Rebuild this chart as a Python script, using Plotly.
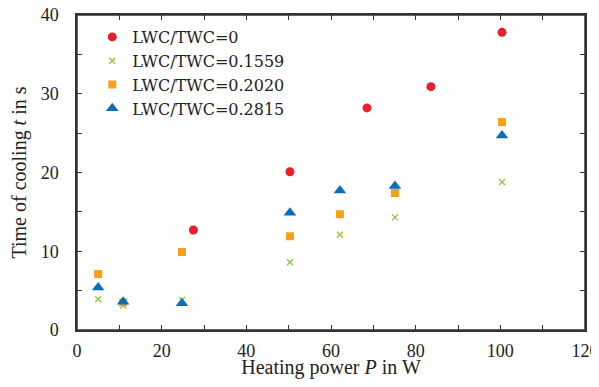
import plotly.graph_objects as go

# Data
names = ["LWC/TWC=0", "LWC/TWC=0.1559", "LWC/TWC=0.2020", "LWC/TWC=0.2815"]

p_lwc0 = [27.5, 50.3, 68.5, 83.6, 100.4]
t_lwc0 = [12.7, 20.1, 28.2, 30.9, 37.8]

p_lwc1559 = [5.0, 10.9, 24.8, 50.3, 62.1, 75.1, 100.4]
t_lwc1559 = [3.9, 3.1, 3.8, 8.6, 12.1, 14.3, 18.8]

p_lwc2020 = [5.0, 10.9, 24.8, 50.3, 62.1, 75.1, 100.4]
t_lwc2020 = [7.1, 3.5, 9.9, 11.9, 14.7, 17.4, 26.4]

p_lwc2815 = [5.0, 10.9, 24.8, 50.3, 62.1, 75.1, 100.4]
t_lwc2815 = [5.4, 3.6, 3.4, 14.9, 17.7, 18.3, 24.7]

x_ticks = [0, 20, 40, 60, 80, 100, 120]
y_ticks = [0, 10, 20, 30, 40]

colors = ["#e8202a", "#8cc63f", "#f7a11a", "#0a6ebd"]
symbols = ["circle", "x-thin", "square", "triangle-up"]
sizes = [9, 6, 8, 11]

series = [(p_lwc0, t_lwc0), (p_lwc1559, t_lwc1559), (p_lwc2020, t_lwc2020), (p_lwc2815, t_lwc2815)]

fig = go.Figure()
for (px, ty), nm, c, s, sz in zip(series, names, colors, symbols, sizes):
    marker = dict(color=c, symbol=s, size=sz)
    if s == "x-thin":
        marker["line"] = dict(color=c, width=1.3)
    fig.add_trace(go.Scatter(x=px, y=ty, mode="markers", name=nm, marker=marker))

font_family = "Liberation Serif"
axis_common = dict(
    showline=True, linecolor="#333333", linewidth=1.5, mirror="allticks",
    ticks="inside", ticklen=5, tickcolor="#333333", tickwidth=1.3,
    showgrid=False, zeroline=False, automargin=False,
    ticklabeloverflow="allow",
    tickfont=dict(family=font_family, size=18, color="#222222"),
)

# page body has an 8px default margin, so the figure is sized to fit the window
fig.update_layout(
    width=589, height=371,
    margin=dict(l=69, r=12, t=7, b=49),
    paper_bgcolor="white", plot_bgcolor="white",
    font=dict(family=font_family, size=18, color="#222222"),
    showlegend=True,
    legend=dict(x=0.03, y=0.984, xanchor="left", yanchor="top",
                bgcolor="rgba(0,0,0,0)",
                font=dict(family="DejaVu Serif", size=16, color="#222222"),
                itemsizing="trace", tracegroupgap=0),
    xaxis=dict(range=[0, 120], tickvals=x_ticks, ticklabelstandoff=4,
               minor=dict(ticks="inside", ticklen=5, tickcolor="#333333", dtick=10, tickwidth=1.3),
               title=dict(text="Heating power <i>P</i> in W", standoff=13,
                          font=dict(family=font_family, size=20)),
               **axis_common),
    yaxis=dict(range=[0, 40], tickvals=y_ticks, ticklabelstandoff=13,
               minor=dict(ticks="inside", ticklen=5, tickcolor="#333333", dtick=5, tickwidth=1.3),
               title=dict(text="Time of cooling <i>t</i> in s", standoff=12,
                          font=dict(family=font_family, size=20)),
               **axis_common),
)

# plot frame (box around the plotting area)
fig.add_shape(type="rect", xref="paper", yref="paper", x0=0, x1=1, y0=0, y1=1,
              line=dict(color="#333333", width=1.5), fillcolor="rgba(0,0,0,0)", layer="above")

fig.write_html("out.html")
